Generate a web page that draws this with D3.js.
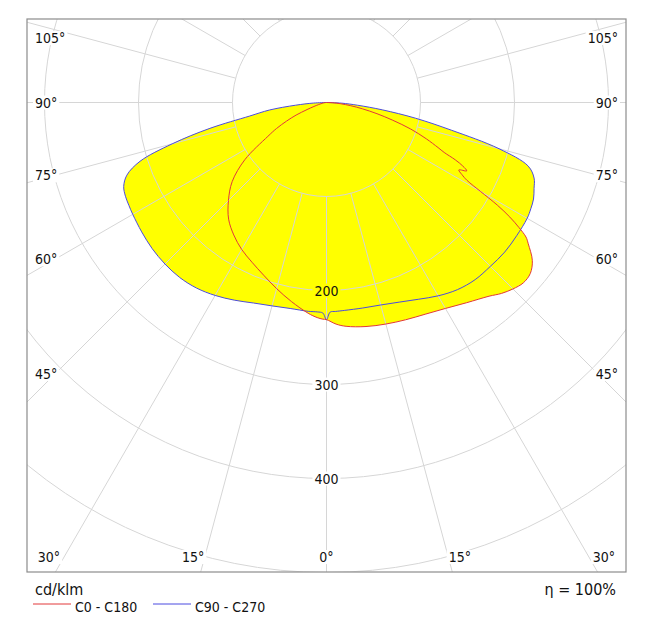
<!DOCTYPE html>
<html>
<head>
<meta charset="utf-8">
<script src="https://cdn.jsdelivr.net/npm/d3@7"></script>
<style>
  body { margin: 0; background: #fff; }
  svg { display: block; }
  text { font-family: "DejaVu Sans Condensed", "DejaVu Sans", sans-serif; fill: #111; }
</style>
</head>
<body>
<svg width="670" height="623"></svg>
<script>
// gamma angles (deg from nadir) shared by C180, C90 and C270
var gammaGrid = [0, 1, 2.5, 5, 10, 15, 20, 25, 30, 35, 40, 45, 50, 55, 60, 62.5, 65, 67.5, 70, 72.5, 75, 77.5, 80, 82.5, 85, 87.5, 90];
// cd/klm
var c180 = [231, 230.5, 229, 225, 215, 205, 195.5, 187.5, 180.5, 172, 162, 147.5, 131, 106, 72, 60, 47, 35, 22, 14, 9, 6, 4, 3, 2, 1, 0];
var c270 = [231, 224, 223, 223, 222.5, 224, 227, 232, 237, 241, 243, 243, 242, 240, 238, 237, 236, 233.5, 226, 208, 170, 127, 83, 61, 33, 14, 0];
var c90 = [231, 223, 222.5, 222, 222, 223, 226, 231, 237.5, 243, 246, 246.5, 247.5, 247, 246.5, 245, 243, 239, 235, 225, 190, 136, 96, 60, 33, 16, 0];
// C0 has its own angles (small spike near 64 deg)
var gammaC0 = [0, 2.5, 5, 10, 15, 20, 25, 30, 35, 40, 42.5, 45, 47.5, 50, 52.5, 55, 56, 57, 58, 59, 60, 61, 62, 63, 64, 65, 66, 67, 68, 70, 72.5, 75, 77.5, 80, 82.5, 85, 87.5, 90];
var c0 = [231, 236, 239, 242, 244, 246, 248.5, 253, 260, 269, 275.5, 280.5, 284, 283, 276, 262, 256, 244, 230, 212, 189, 171, 163, 158, 166, 160, 150, 136, 128, 113, 94, 73, 55, 39, 26, 15, 7, 0];

var ringValues = [100, 200, 300, 400, 500, 600];
var ringLabels = [200, 300, 400];
var spokeAngles = [0, 15, 30, 45, 60, 75, 90, 105, 120, 135, 150, 165, 180];
var sideLabels = [105, 90, 75, 60, 45];
var bottomLabels = [30, 15, 0];
var seriesNames = ["C0 - C180", "C90 - C270"];
var unitText = "cd/klm";
var etaText = "\u03b7 = 100%";

var red = "#e2383a";
var blue = "#4b4be0";
var frame = {x: 27, y: 19, w: 599, h: 553};
var cx = 326.5, cy = 102.5;

var svg = d3.select("svg");
var r = d3.scaleLinear().domain([0, 100]).range([0, 94]);
var rad = Math.PI / 180;

var defs = svg.append("defs");
defs.append("clipPath").attr("id", "frameClip")
  .append("rect").attr("x", frame.x).attr("y", frame.y).attr("width", frame.w).attr("height", frame.h);
var mask = defs.append("mask").attr("id", "gaps")
  .attr("maskUnits", "userSpaceOnUse").attr("x", 0).attr("y", 0).attr("width", 670).attr("height", 623);
mask.append("rect").attr("width", 670).attr("height", 623).attr("fill", "white");

// side: -1 left half, +1 right half
function half(gammas, values, side) {
  return gammas.map(function (g, i) {
    return {a: Math.PI - side * g * rad, v: values[i]};
  });
}
function closedCurve(lg, lv, rg, rv) {
  var left = half(lg, lv, -1).reverse();
  var right = half(rg, rv, 1).slice(1);
  return left.concat(right);
}

var curveC0 = closedCurve(gammaGrid, c180, gammaC0, c0);
var curveC90 = closedCurve(gammaGrid, c270, gammaGrid, c90);

var line = d3.lineRadial()
  .angle(function (d) { return d.a; })
  .radius(function (d) { return r(d.v); })
  .curve(d3.curveCatmullRom.alpha(0.5));

// yellow fill = union of both planes
var fillG = svg.append("g").attr("transform", "translate(" + cx + "," + cy + ")");
[curveC0, curveC90].forEach(function (c) {
  fillG.append("path").attr("d", line(c)).attr("fill", "#ffff00").attr("stroke", "none");
});

// grid
var gridOuter = svg.append("g").attr("clip-path", "url(#frameClip)").attr("mask", "url(#gaps)");
var grid = gridOuter.append("g").attr("transform", "translate(" + cx + "," + cy + ")")
  .attr("fill", "none").attr("stroke", "#d6d6d6").attr("stroke-width", 1);

ringValues.forEach(function (v) {
  grid.append("circle").attr("r", r(v));
});
spokeAngles.forEach(function (g) {
  [-1, 1].forEach(function (s) {
    var sx = s * Math.sin(g * rad), sy = Math.cos(g * rad);
    grid.append("line")
      .attr("x1", sx * r(100)).attr("y1", sy * r(100))
      .attr("x2", sx * r(800)).attr("y2", sy * r(800));
  });
});

// curves
var lineG = svg.append("g").attr("transform", "translate(" + cx + "," + cy + ")");
lineG.append("path").attr("d", line(curveC90)).attr("fill", "none").attr("stroke", blue).attr("stroke-width", 1);
lineG.append("path").attr("d", line(curveC0)).attr("fill", "none").attr("stroke", red).attr("stroke-width", 1);

// labels
var labels = svg.append("g").attr("font-size", 14);

ringLabels.forEach(function (v) {
  labels.append("text").attr("class", "gap")
    .attr("x", cx).attr("y", cy + r(v)).attr("dy", "0.36em")
    .attr("text-anchor", "middle").text(v);
});

var reachX = cx - frame.x - 28;
sideLabels.forEach(function (g) {
  var y = cy + reachX * Math.cos(g * rad) / Math.sin(g * rad);
  y = Math.max(y, frame.y + 19);
  labels.append("text").attr("class", "gap")
    .attr("x", frame.x + 8).attr("y", y).attr("dy", "0.36em")
    .attr("text-anchor", "start").text(g + "\u00b0");
  labels.append("text").attr("class", "gap")
    .attr("x", frame.x + frame.w - 8).attr("y", y).attr("dy", "0.36em")
    .attr("text-anchor", "end").text(g + "\u00b0");
});

var reachY = frame.y + frame.h + 28 - cy;
bottomLabels.forEach(function (g) {
  var sides = g === 0 ? [1] : [-1, 1];
  sides.forEach(function (s) {
    var x = cx + s * reachY * Math.tan(g * rad);
    x = Math.min(Math.max(x, frame.x + 22), frame.x + frame.w - 22);
    labels.append("text").attr("class", "gap")
      .attr("x", x).attr("y", frame.y + frame.h - 15).attr("dy", "0.36em")
      .attr("text-anchor", "middle").text(g + "\u00b0");
  });
});

// cut the grid around the labels
labels.selectAll("text.gap").each(function () {
  var b = this.getBBox();
  mask.append("rect")
    .attr("x", b.x - 2).attr("y", b.y + 1).attr("width", b.width + 4).attr("height", b.height - 2)
    .attr("fill", "black");
});

// frame
svg.append("rect").attr("x", frame.x).attr("y", frame.y).attr("width", frame.w).attr("height", frame.h)
  .attr("fill", "none").attr("stroke", "#8c8c8c").attr("stroke-width", 1.2);

// footer
svg.append("text").attr("x", 35).attr("y", 595).attr("font-size", 16).text(unitText);
svg.append("text").attr("x", 616).attr("y", 595).attr("font-size", 16).attr("text-anchor", "end").text(etaText);

var legendX = [33, 153];
[red, blue].forEach(function (col, i) {
  svg.append("line").attr("x1", legendX[i]).attr("x2", legendX[i] + 38)
    .attr("y1", 604).attr("y2", 604).attr("stroke", col).attr("stroke-width", 1);
  svg.append("text").attr("x", legendX[i] + 42).attr("y", 611.5).attr("font-size", 14).text(seriesNames[i]);
});
</script>
</body>
</html>
